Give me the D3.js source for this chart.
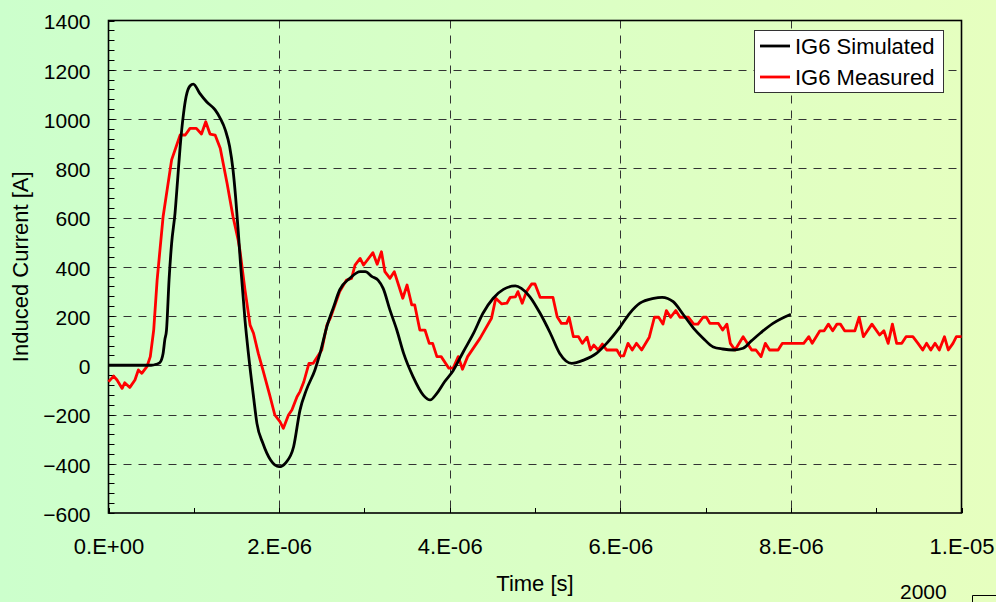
<!DOCTYPE html>
<html>
<head>
<meta charset="utf-8">
<script src="https://cdn.jsdelivr.net/npm/d3@7/dist/d3.min.js"></script>
<style>
  html, body { margin: 0; padding: 0; background: #ccffcc; }
  svg { display: block; font-family: "Liberation Sans", Arial, sans-serif; }
</style>
</head>
<body>
<svg id="chart" width="996" height="602"></svg>
<script>
// Simulated induced current IG6 (time in microseconds, current in A)
const simTime = [0, 0.3, 0.5, 0.56, 0.60, 0.64, 0.66, 0.68, 0.71, 0.74, 0.78, 0.81, 0.84, 0.88, 0.91, 0.955, 0.995,
  1.07, 1.15, 1.25, 1.31, 1.37, 1.42, 1.46, 1.49, 1.52, 1.55, 1.60, 1.64, 1.70, 1.74, 1.81, 1.90, 2.0, 2.08,
  2.17, 2.245, 2.32, 2.42, 2.48, 2.56, 2.64, 2.71, 2.83, 2.95, 3.01, 3.09, 3.16, 3.22, 3.30, 3.38, 3.46, 3.57,
  3.69, 3.77, 3.85, 3.94, 4.04, 4.16, 4.28, 4.39, 4.51, 4.63, 4.77, 4.84, 4.94, 5.06, 5.18, 5.29, 5.43, 5.57,
  5.72, 5.84, 6.00, 6.11, 6.23, 6.39, 6.49, 6.62, 6.74, 6.86, 6.97, 7.09, 7.20, 7.33, 7.44, 7.54, 7.64, 7.79, 8.00];
const simCurrent = [0, 0, 0, 4, 10, 48, 103, 143, 347, 495, 618, 752, 888, 1023, 1091, 1134, 1142,
  1104, 1070, 1037, 1003, 955, 888, 793, 684, 549, 400, 184, 48, -128, -236, -317, -385, -412, -395,
  -331, -182, -100, -19, 48, 157, 238, 306, 353, 380, 380, 360, 346, 312, 224, 143, 48, -46,
  -121, -141, -114, -67, -22, 55, 130, 211, 272, 308, 322, 312, 278, 211, 130, 48, 8, 21,
  48, 89, 157, 211, 252, 272, 276, 258, 205, 150, 110, 74, 66, 62, 69, 100, 130, 170, 207];

// Measured induced current IG6 (time in microseconds, current in A)
const measTime = [0, 0.06, 0.1, 0.16, 0.19, 0.25, 0.31, 0.35, 0.39, 0.45, 0.49, 0.53, 0.57, 0.64, 0.74, 0.84, 0.90,
  0.955, 1.03, 1.09, 1.14, 1.19, 1.25, 1.31, 1.39, 1.46, 1.52, 1.54, 1.60, 1.66, 1.70, 1.756, 1.81, 1.89, 1.95,
  2.01, 2.05, 2.11, 2.15, 2.21, 2.245, 2.29, 2.35, 2.40, 2.50, 2.56, 2.60, 2.675, 2.71, 2.79, 2.85, 2.89, 2.95,
  2.99, 3.10, 3.15, 3.20, 3.24, 3.30, 3.35, 3.45, 3.50, 3.555, 3.59, 3.65, 3.71, 3.76, 3.80, 3.85, 3.90, 3.99,
  4.04, 4.10, 4.15, 4.21, 4.355, 4.49, 4.54, 4.61, 4.67, 4.71, 4.77, 4.80, 4.85, 4.90, 4.96, 5.00, 5.06, 5.21,
  5.26, 5.31, 5.37, 5.40, 5.45, 5.51, 5.555, 5.61, 5.65, 5.69, 5.74, 5.79, 5.84, 5.96, 6.00, 6.04, 6.09, 6.14,
  6.19, 6.25, 6.34, 6.40, 6.45, 6.50, 6.54, 6.59, 6.65, 6.70, 6.80, 6.86, 6.91, 6.97, 7.01, 7.05, 7.15, 7.20,
  7.25, 7.29, 7.345, 7.44, 7.54, 7.59, 7.65, 7.70, 7.75, 7.85, 7.90, 8.15, 8.21, 8.25, 8.34, 8.39, 8.44, 8.49,
  8.54, 8.58, 8.63, 8.75, 8.80, 8.85, 8.95, 9.04, 9.09, 9.14, 9.19, 9.24, 9.30, 9.35, 9.43, 9.49, 9.545, 9.59,
  9.64, 9.69, 9.74, 9.80, 9.845, 9.90, 9.94, 10.0];
const measCurrent = [-67, -44, -60, -94, -71, -90, -60, -19, -33, -6, 35, 143, 346, 603, 834, 935, 935,
  962, 962, 939, 989, 939, 935, 881, 739, 603, 509, 468, 306, 163, 130, 48, -19, -121, -202,
  -229, -256, -202, -182, -128, -107, -67, 8, 8, 62, 163, 191, 265, 299, 346, 353, 407, 434,
  407, 457, 410, 461, 380, 353, 380, 272, 326, 245, 245, 143, 143, 89, 89, 35, 35, -12,
  -12, 35, -16, 35, 109, 191, 272, 249, 252, 276, 278, 299, 252, 299, 330, 330, 276, 276,
  197, 170, 170, 195, 116, 116, 89, 114, 62, 82, 62, 86, 62, 62, 38, 38, 89, 62,
  89, 62, 114, 195, 195, 167, 222, 195, 222, 195, 195, 167, 167, 195, 195, 170, 170, 143,
  167, 89, 62, 116, 62, 62, 35, 89, 62, 62, 89, 89, 116, 89, 140, 140, 167, 140,
  167, 167, 140, 140, 195, 116, 167, 123, 140, 89, 167, 89, 89, 116, 116, 89, 62, 89,
  62, 89, 62, 116, 62, 89, 116, 116];

// Axis ticks and labels
const xTickValues = [0, 2, 4, 6, 8, 10];
const xTickLabels = ["0.E+00", "2.E-06", "4.E-06", "6.E-06", "8.E-06", "1.E-05"];
const yTickValues = [-600, -400, -200, 0, 200, 400, 600, 800, 1000, 1200, 1400];
const seriesNames = ["IG6 Simulated", "IG6 Measured"];
const seriesColors = ["#000000", "#ff0000"];

const svg = d3.select("#chart");
const W = 996, H = 602;
const plot = { left: 108.5, right: 961.5, top: 20.5, bottom: 513 };
const FONT = "'Liberation Sans', Arial, sans-serif";

// Background gradient
const defs = svg.append("defs");
const grad = defs.append("linearGradient").attr("id", "bg").attr("x1", "0").attr("x2", "1").attr("y1", "0").attr("y2", "0");
grad.append("stop").attr("offset", "0").attr("stop-color", "#ccffcc");
grad.append("stop").attr("offset", "1").attr("stop-color", "#e6ffbf");
svg.append("rect").attr("width", W).attr("height", H).attr("fill", "url(#bg)");

const x = d3.scaleLinear().domain([0, 10]).range([plot.left, plot.right]);
const y = d3.scaleLinear().domain([-600, 1400]).range([plot.bottom, plot.top]);

// Dashed grid
const grid = svg.append("g").attr("stroke", "#333").attr("stroke-width", 1).attr("stroke-dasharray", "8,7");
grid.selectAll("line.h").data(yTickValues.filter(v => v > -600 && v < 1400)).join("line")
  .attr("x1", plot.left).attr("x2", plot.right)
  .attr("y1", d => Math.round(y(d)) + 0.5).attr("y2", d => Math.round(y(d)) + 0.5);
grid.selectAll("line.v").data(xTickValues.filter(v => v > 0 && v < 10)).join("line")
  .attr("y1", plot.top).attr("y2", plot.bottom)
  .attr("x1", d => Math.round(x(d)) + 0.5).attr("x2", d => Math.round(x(d)) + 0.5);

// Minor ticks (inside)
const yMinor = d3.range(-600, 1401, 40);
svg.append("g").attr("stroke", "#000").attr("stroke-width", 1)
  .selectAll("line").data(yMinor).join("line")
  .attr("x1", plot.left).attr("x2", plot.left + 6)
  .attr("y1", d => Math.round(y(d)) + 0.5).attr("y2", d => Math.round(y(d)) + 0.5);
const xMinor = d3.range(0, 10.01, 1);
svg.append("g").attr("stroke", "#000").attr("stroke-width", 1)
  .selectAll("line").data(xMinor).join("line")
  .attr("y1", plot.bottom).attr("y2", plot.bottom - 5)
  .attr("x1", d => Math.round(x(d)) + 0.5).attr("x2", d => Math.round(x(d)) + 0.5);

// Frame
svg.append("rect").attr("x", plot.left).attr("y", plot.top)
  .attr("width", plot.right - plot.left).attr("height", plot.bottom - plot.top)
  .attr("fill", "none").attr("stroke", "#000").attr("stroke-width", 1.6);

// Tick labels via d3 axes
const yAxis = d3.axisLeft(y).tickValues(yTickValues).tickSize(0).tickPadding(18).tickFormat(d3.format("d"));
const yg = svg.append("g").attr("transform", `translate(${plot.left},0)`).call(yAxis);
yg.select(".domain").remove();
yg.selectAll("text").attr("font-size", 21).attr("fill", "#000").attr("font-family", FONT)
  .attr("dy", "0.4em");

const xAxis = d3.axisBottom(x).tickValues(xTickValues).tickSize(0).tickPadding(25)
  .tickFormat((d, i) => xTickLabels[i]);
const xg = svg.append("g").attr("transform", `translate(0,${plot.bottom})`).call(xAxis);
xg.select(".domain").remove();
xg.selectAll("text").attr("font-size", 22).attr("fill", "#000").attr("font-family", FONT);

// Axis titles
svg.append("text").attr("x", (plot.left + plot.right) / 2).attr("y", 591)
  .attr("text-anchor", "middle").attr("font-size", 22).text("Time [s]");
svg.append("text").attr("transform", `translate(28,${(plot.top + plot.bottom) / 2}) rotate(-90)`)
  .attr("text-anchor", "middle").attr("font-size", 22).text("Induced Current [A]");

// Series
const line = d3.line().x(d => x(d[0])).y(d => y(d[1]));
const simData = simTime.map((t, i) => [t, simCurrent[i]]);
const measData = measTime.map((t, i) => [t, measCurrent[i]]);

svg.append("path").datum(measData)
  .attr("d", line).attr("fill", "none").attr("stroke", seriesColors[1])
  .attr("stroke-width", 2.8).attr("stroke-linejoin", "round");
svg.append("path").datum(simData)
  .attr("d", line.curve(d3.curveMonotoneX)).attr("fill", "none").attr("stroke", seriesColors[0])
  .attr("stroke-width", 2.8).attr("stroke-linejoin", "round");

// Legend
const lg = svg.append("g");
lg.append("rect").attr("x", 754.5).attr("y", 30.5).attr("width", 189).attr("height", 62)
  .attr("fill", "#fff").attr("stroke", "#333").attr("stroke-width", 1);
seriesNames.forEach((name, i) => {
  const yy = 46 + i * 31;
  lg.append("line").attr("x1", 760).attr("x2", 790).attr("y1", yy).attr("y2", yy)
    .attr("stroke", seriesColors[i]).attr("stroke-width", 2.8);
  lg.append("text").attr("x", 795).attr("y", yy + 8).attr("font-size", 22).text(name);
});

// Edge of the neighbouring chart panel
svg.append("text").attr("x", 900).attr("y", 599).attr("font-size", 21).text("2000");
svg.append("path").attr("d", "M972.5,602 V595.5 H996").attr("fill", "none")
  .attr("stroke", "#000").attr("stroke-width", 1);
</script>
</body>
</html>
